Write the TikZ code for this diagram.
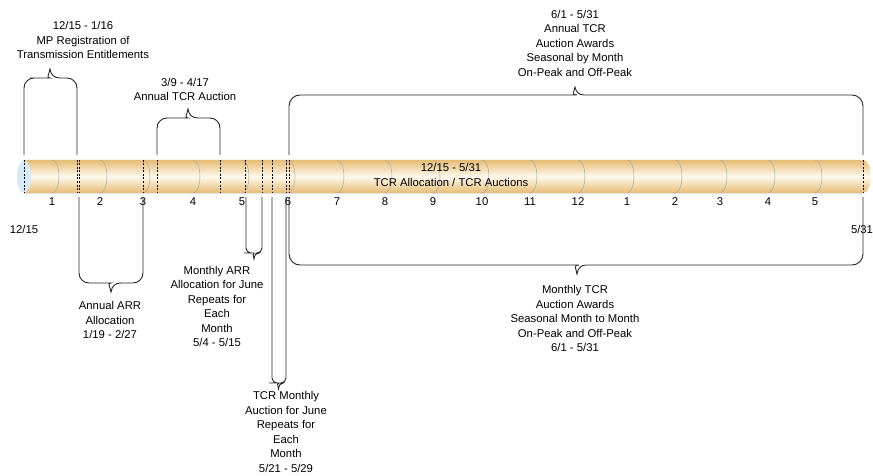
\documentclass[tikz,border=0pt]{standalone}
\usepackage{fontspec}
\setmainfont{Liberation Sans}
\definecolor{tubeedge}{RGB}{229,188,115}
\definecolor{tubemid}{RGB}{255,249,238}
\definecolor{capblue}{RGB}{214,234,248}
\begin{document}
\begin{tikzpicture}[x=1pt,y=-1pt,
  lbl/.style={align=center, inner sep=0pt, font=\fontsize{11.3}{14.5}\selectfont},
  brace/.style={line width=0.9pt, draw=black!85},
  seg/.style={draw=black!35, line width=0.5pt},
  cut/.style={line width=0.6pt, dash pattern=on 2pt off 1.5pt}]

 \useasboundingbox (0,0) rectangle (873,476);

 % tube
 \shade[top color=tubeedge, bottom color=tubeedge, middle color=tubemid]
   (24,160) -- (863,160) arc[start angle=90, end angle=-90, x radius=8pt, y radius=16.5pt] -- (24,193) -- cycle;
 \draw[capblue!80!black!40, line width=0.4pt] (24,193) -- (863,193);
 \fill[capblue] (24,176.5) ellipse [x radius=7pt, y radius=16.5pt];

 \foreach \x/\m in {52/1,100/2,143/3,193/4,242/5,288/6,337/7,385/8,433/9,482/10,530/11,578/12,627/1,675/2,720/3,768/4,815/5} {
   \draw[seg] (\x,160) arc[start angle=90, end angle=-90, x radius=7pt, y radius=16.5pt];
   \node[lbl] (m\x) at (\x,202) {\m};
 }
 \foreach \x in {24,77,79,143,157,220,245,262,272,286,289,863}
   \draw[cut] (\x,160) -- (\x,193);

 \node[lbl] (tube) at (451,175) {12/15 - 5/31\\TCR Allocation / TCR Auctions};
 \node[lbl] (start) at (24,229) {12/15};
 \node[lbl] (end) at (862,229) {5/31};

 % above the tube
 \node[lbl] (mpreg) at (83,40) {12/15 - 1/16\\MP Registration of\\Transmission Entitlements};
 \draw[brace] (24,155) [rounded corners=10pt] -- (24,78) -- (40,78) [sharp corners]
   .. controls (46,78) and (49,75) .. (50,69) .. controls (51,75) and (54,78) .. (60,78)
   [rounded corners=10pt] -- (77,78) -- (77,155);

 \node[lbl] (annauc) at (185,89.5) {3/9 - 4/17\\Annual TCR Auction};
 \draw[brace] (157,155) [rounded corners=10pt] -- (157,118) -- (178,118) [sharp corners]
   .. controls (184,118) and (187,115) .. (188,109) .. controls (189,115) and (192,118) .. (198,118)
   [rounded corners=10pt] -- (220,118) -- (220,155);

 \node[lbl] (annaward) at (575,43) {6/1 - 5/31\\Annual TCR\\Auction Awards\\Seasonal by Month\\On-Peak and Off-Peak};
 \draw[brace] (289,155) [rounded corners=11pt] -- (289,95) -- (566,95) [sharp corners]
   .. controls (571,95) and (574,92) .. (575,87) .. controls (576,92) and (579,95) .. (584,95)
   [rounded corners=11pt] -- (863,95) -- (863,155);

 % below the tube
 \node[lbl] (annarr) at (110,320) {Annual ARR\\Allocation\\1/19 - 2/27};
 \draw[brace] (79,197) [rounded corners=10pt] -- (79,283) -- (101,283) [sharp corners]
   .. controls (107,283) and (110,286) .. (111,292) .. controls (112,286) and (115,283) .. (121,283)
   [rounded corners=10pt] -- (143,283) -- (143,197);

 \node[lbl] (monarr) at (217,306.5) {Monthly ARR\\Allocation for June\\Repeats for\\Each\\Month\\5/4 - 5/15};
 \draw[brace] (246,197) [rounded corners=5pt] -- (246,253) -- (249,253) [sharp corners]
   .. controls (252,253) and (253.5,255) .. (254,259) .. controls (254.5,255) and (256,253) .. (259,253)
   [rounded corners=5pt] -- (262,253) -- (262,197);

 \node[lbl] (monauc) at (286,432) {TCR Monthly\\Auction for June\\Repeats for\\Each\\Month\\5/21 - 5/29};
 \draw[brace] (272,197) [rounded corners=5pt] -- (272,383) -- (274,383) [sharp corners]
   .. controls (276.5,383) and (278,385) .. (278.5,389) .. controls (279,385) and (280.5,383) .. (283,383)
   [rounded corners=5pt] -- (286,383) -- (286,197);

 \node[lbl] (monaward) at (575,318.5) {Monthly TCR\\Auction Awards\\Seasonal Month to Month\\On-Peak and Off-Peak\\6/1 - 5/31};
 \draw[brace] (289,197) [rounded corners=11pt] -- (289,265) -- (568,265) [sharp corners]
   .. controls (573,265) and (576,268) .. (577,274) .. controls (578,268) and (581,265) .. (586,265)
   [rounded corners=11pt] -- (863,265) -- (863,197);

\end{tikzpicture}
\end{document}
